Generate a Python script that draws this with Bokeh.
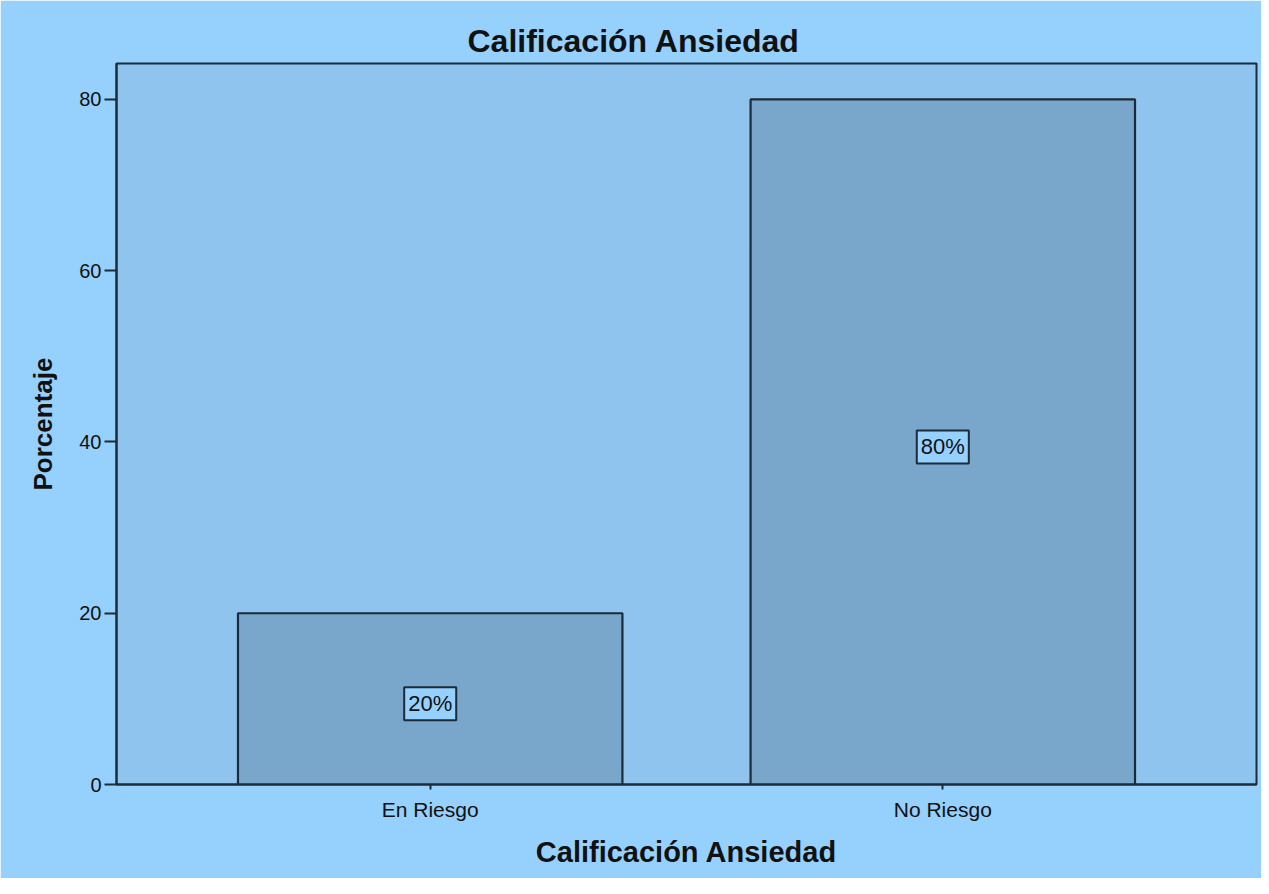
from bokeh.plotting import figure
from bokeh.models import Range1d, FixedTicker, Label
from bokeh.embed import file_html
from bokeh.resources import INLINE

categories = ["En Riesgo", "No Riesgo"]
percentages = [20, 80]
bar_labels = ["20%", "80%"]
y_ticks = [0, 20, 40, 60, 80]
title_text = "Calificación Ansiedad"
x_label = "Calificación Ansiedad"
y_label = "Porcentaje"

OUTER = "#96D0FC"
INNER = "#8EC4EE"
BAR = "#79A7CB"
DARK = "#1E2A36"
FONT = "Liberation Sans"

xs = list(range(1, len(categories) + 1))

p = figure(width=1261, height=878, output_backend="svg", toolbar_location=None,
           x_range=Range1d(0.388, 2.612), y_range=Range1d(0, 84.2),
           min_border_left=116, min_border_top=63, min_border_right=5,
           min_border_bottom=94)

p.title.text = title_text
p.title.align = "left"
p.title.offset = 351
p.title.text_font = FONT
p.title.text_font_size = "32px"
p.title.text_font_style = "bold"
p.title.text_color = "#111111"
p.title.standoff = 9

p.background_fill_color = INNER
p.border_fill_color = OUTER
p.outline_line_color = DARK
p.outline_line_width = 2

p.xgrid.visible = False
p.ygrid.visible = False

p.vbar(x=xs, top=percentages, width=0.75, fill_color=BAR,
       line_color=DARK, line_width=2.2)

for xv, v, t in zip(xs, percentages, bar_labels):
    p.add_layout(Label(x=xv, y=v / 2, y_offset=-5, text=t, text_align="center",
                       text_baseline="middle", text_font=FONT,
                       text_font_size="22px", text_color="#111111",
                       background_fill_color=OUTER, border_line_color=DARK,
                       border_line_width=2, padding=4))

xa = p.xaxis[0]
xa.ticker = FixedTicker(ticks=xs)
xa.major_label_overrides = {x: c for x, c in zip(xs, categories)}
xa.axis_label = x_label
xa.axis_label_text_font = FONT
xa.axis_label_text_font_size = "29px"
xa.axis_label_text_font_style = "bold"
xa.axis_label_text_color = "#111111"
xa.axis_label_standoff = 12
xa.major_label_text_font = FONT
xa.major_label_text_font_size = "21px"
xa.major_label_text_color = "#111111"
xa.major_label_standoff = 8
xa.major_tick_out = 5
xa.major_tick_in = 0
xa.minor_tick_out = 0
xa.minor_tick_in = 0
xa.axis_line_color = DARK
xa.axis_line_width = 2
xa.major_tick_line_color = DARK
xa.major_tick_line_width = 2

ya = p.yaxis[0]
ya.ticker = FixedTicker(ticks=y_ticks)
ya.axis_label = y_label
ya.axis_label_text_font = FONT
ya.axis_label_text_font_size = "26px"
ya.axis_label_text_font_style = "bold"
ya.axis_label_text_color = "#111111"
ya.axis_label_standoff = 18
ya.major_label_text_font = FONT
ya.major_label_text_font_size = "20px"
ya.major_label_text_color = "#111111"
ya.major_label_standoff = 3
ya.major_tick_out = 12
ya.major_tick_in = 0
ya.minor_tick_out = 0
ya.minor_tick_in = 0
ya.axis_line_color = DARK
ya.axis_line_width = 2
ya.major_tick_line_color = DARK
ya.major_tick_line_width = 2

open("out.html", "w").write(file_html(p, INLINE))
